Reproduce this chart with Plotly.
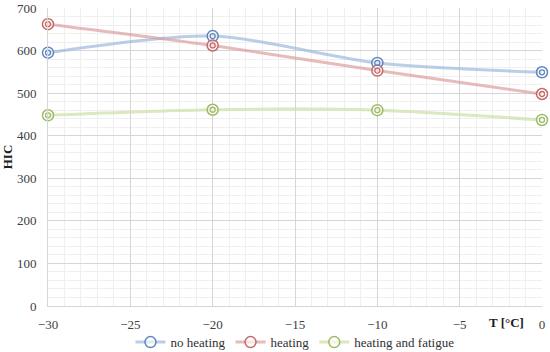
import plotly.graph_objects as go

temps = [-30, -20, -10, 0]
no_heating = [595, 634, 571, 549]
heating = [662, 612, 553, 498]
heating_fatigue = [448, 461, 460, 437]
x_ticks = [-30, -25, -20, -15, -10, -5, 0]
x_tick_labels = ["−30", "−25", "−20", "−15", "−10", "−5", "0"]

series = [
    ("no heating", no_heating, "rgba(150,180,220,0.65)", "#5f86bd"),
    ("heating", heating, "rgba(220,150,150,0.65)", "#c46a68"),
    ("heating and fatigue", heating_fatigue, "rgba(205,225,170,0.75)", "#9fba68"),
]

FONT = "Liberation Serif, DejaVu Serif, serif"
fig = go.Figure()
for name, vals, lc, mc in series:
    fig.add_trace(go.Scatter(
        x=temps, y=vals, name=name, mode="lines+markers", cliponaxis=False,
        line=dict(color=lc, width=3, shape="spline", smoothing=0.8),
        marker=dict(symbol="circle", size=11, color="rgba(255,255,255,0.6)",
                    line=dict(color=mc, width=1.5)),
    ))
for name, vals, lc, mc in series:
    fig.add_trace(go.Scatter(
        x=temps, y=vals, mode="markers", showlegend=False, hoverinfo="skip", cliponaxis=False,
        marker=dict(symbol="circle-open", size=5, color=mc, line=dict(color=mc, width=1.3)),
    ))

fig.update_layout(
    width=550, height=352,
    margin=dict(l=48, r=8, t=8, b=46),
    paper_bgcolor="white", plot_bgcolor="white",
    font=dict(family=FONT, size=13, color="#404040"),
    showlegend=True,
    legend=dict(orientation="h", x=0.5, xanchor="center", yref="container", y=0.028,
                yanchor="middle", bgcolor="rgba(0,0,0,0)",
                font=dict(family=FONT, size=13, color="#303030"),
                itemwidth=30, tracegroupgap=0),
    xaxis=dict(range=[-30, 0], tickvals=x_ticks, ticktext=x_tick_labels, showgrid=True,
               gridcolor="#d6d6d6", automargin=False,
               gridwidth=1, zeroline=False, showline=True, linecolor="#d6d6d6",
               ticks="", ticklabelstandoff=6,
               minor=dict(dtick=1, tick0=-30, showgrid=True, gridcolor="#efefef", gridwidth=1)),
    yaxis=dict(range=[0, 700], tick0=0, dtick=100, showgrid=True, gridcolor="#d6d6d6",
               gridwidth=1, zeroline=False, showline=True, linecolor="#d6d6d6",
               ticks="", ticklabelstandoff=8, automargin=False,
               title=dict(text="<b>HIC</b>", font=dict(family=FONT, size=13, color="#202020"),
                          standoff=2),
               minor=dict(dtick=20, showgrid=True, gridcolor="#efefef", gridwidth=1)),
    annotations=[dict(text="<b>T [°C]</b>", xref="paper", yref="paper", x=0.929, y=-0.057,
                      xanchor="center", yanchor="middle", showarrow=False,
                      font=dict(family=FONT, size=13, color="#202020"))],
)

fig.write_html("out.html", config={"displayModeBar": False},
               post_script="document.body.style.margin='0';")
